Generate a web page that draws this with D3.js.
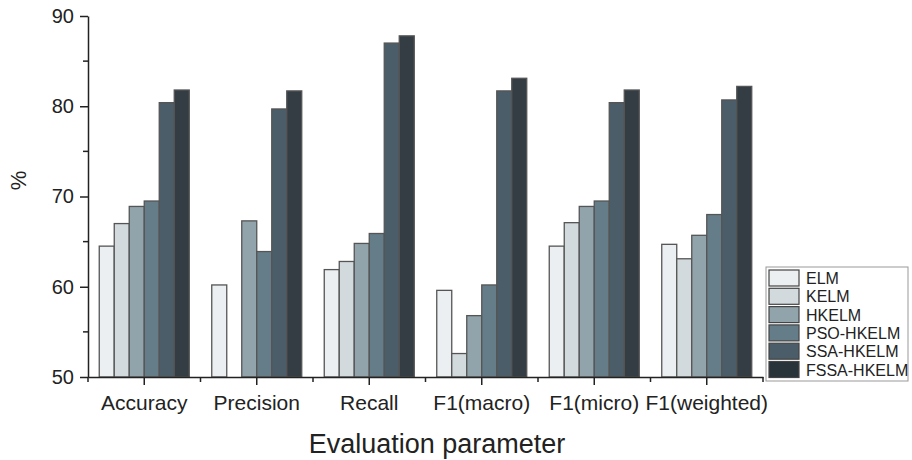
<!DOCTYPE html>
<html>
<head>
<meta charset="utf-8">
<script src="https://cdn.jsdelivr.net/npm/d3@7"></script>
<style>
  body { margin: 0; background: #fff; }
  svg { display: block; font-family: "Liberation Sans", Arial, sans-serif; }
  .axis path, .axis line { stroke: #222; stroke-width: 1.5; }
  .axis text { fill: #222; }
</style>
</head>
<body>
<div id="chart"></div>
<script>
  //-- DATA
  var categories = ['Accuracy', 'Precision', 'Recall', 'F1(macro)', 'F1(micro)', 'F1(weighted)'];
  var models = ['ELM', 'KELM', 'HKELM', 'PSO-HKELM', 'SSA-HKELM', 'FSSA-HKELM'];
  var elm   = [64.5, 60.2, 61.9, 59.6, 64.5, 64.7];
  var kelm  = [67.0, 48.0, 62.8, 52.6, 67.1, 63.1];
  var hkelm = [68.9, 67.3, 64.8, 56.8, 68.9, 65.7];
  var pso   = [69.5, 63.9, 65.9, 60.2, 69.5, 68.0];
  var ssa   = [80.4, 79.7, 87.0, 81.7, 80.4, 80.7];
  var fssa  = [81.8, 81.7, 87.8, 83.1, 81.8, 82.2];
  var yTicks = [50, 60, 70, 80, 90];

  var series = [elm, kelm, hkelm, pso, ssa, fssa];
  var colors = ['#ebeff1', '#d3dadd', '#91a3ab', '#657d89', '#4b5d68', '#343d44'];
  var legendColors = ['#ebeff1', '#d3dadd', '#91a3ab', '#657d89', '#4b5d68', '#29333a'];

  //-- SIZES
  var svgWidth = 912, svgHeight = 460;
  var m = { top: 16, right: 149, bottom: 83, left: 88 };
  var width = svgWidth - m.left - m.right;
  var height = svgHeight - m.top - m.bottom;

  var svg = d3.select('#chart').append('svg')
    .attr('width', svgWidth)
    .attr('height', svgHeight);

  var g = svg.append('g')
    .attr('transform', 'translate(' + m.left + ',' + m.top + ')');

  //-- SCALES
  var x0 = d3.scaleBand()
    .domain(categories)
    .range([0, width])
    .paddingInner(0.2)
    .paddingOuter(0.1);

  var x1 = d3.scaleBand()
    .domain(models)
    .range([0, x0.bandwidth()]);

  var y = d3.scaleLinear()
    .domain([50, 90])
    .range([height, 0]);

  g.append('clipPath').attr('id', 'clip')
    .append('rect').attr('width', width).attr('height', height);

  //-- BARS
  var groups = g.append('g').attr('clip-path', 'url(#clip)')
    .selectAll('g')
    .data(categories)
    .enter().append('g')
    .attr('transform', function(d) { return 'translate(' + x0(d) + ',0)'; });

  groups.selectAll('rect')
    .data(function(d, i) {
      return models.map(function(mdl, j) { return { model: mdl, value: series[j][i], j: j }; });
    })
    .enter().append('rect')
    .attr('x', function(d) { return x1(d.model); })
    .attr('y', function(d) { return y(d.value); })
    .attr('width', x1.bandwidth())
    .attr('height', function(d) { return Math.max(0, height - y(d.value)); })
    .attr('fill', function(d) { return colors[d.j]; })
    .attr('stroke', '#555')
    .attr('stroke-width', 1.3);

  //-- Y AXIS
  var axisY = g.append('g').attr('class', 'axis')
    .call(d3.axisLeft(y).tickValues(yTicks).tickSize(8).tickPadding(6).tickSizeOuter(0));
  axisY.selectAll('text').style('font-size', '20px');
  axisY.append('g')
    .selectAll('line')
    .data([55, 65, 75, 85])
    .enter().append('line')
    .attr('x1', -5).attr('x2', 0)
    .attr('y1', function(d) { return y(d); })
    .attr('y2', function(d) { return y(d); });

  //-- X AXIS
  var axisX = g.append('g').attr('class', 'axis')
    .attr('transform', 'translate(0,' + height + ')')
    .call(d3.axisBottom(x0).tickSize(8).tickPadding(10).tickSizeOuter(0));
  axisX.selectAll('text').style('font-size', '21px');
  var bounds = categories.map(function(c) { return x0(c) - x0.step() * x0.paddingInner() / 2; });
  bounds.push(width);
  axisX.append('g')
    .selectAll('line')
    .data(bounds)
    .enter().append('line')
    .attr('x1', function(d) { return d; }).attr('x2', function(d) { return d; })
    .attr('y1', 0).attr('y2', 5);

  //-- AXIS TITLES
  svg.append('text')
    .attr('x', 437)
    .attr('y', 453)
    .attr('text-anchor', 'middle')
    .style('font-size', '27px')
    .style('fill', '#222')
    .text('Evaluation parameter');

  svg.append('text')
    .attr('transform', 'translate(26,' + y(70) + ') rotate(-90)')
    .attr('text-anchor', 'middle')
    .style('font-size', '22px')
    .style('fill', '#222')
    .text('%');

  //-- LEGEND
  var legend = svg.append('g').attr('transform', 'translate(766,267)');
  legend.append('rect')
    .attr('width', 142).attr('height', 114)
    .attr('fill', '#fff').attr('stroke', '#999').attr('stroke-width', 1);
  var items = legend.selectAll('.item')
    .data(models)
    .enter().append('g')
    .attr('transform', function(d, i) { return 'translate(3,' + (3 + i * 18.3) + ')'; });
  items.append('rect')
    .attr('width', 30).attr('height', 16)
    .attr('fill', function(d, i) { return legendColors[i]; })
    .attr('stroke', '#444').attr('stroke-width', 1.2);
  items.append('text')
    .attr('x', 37).attr('y', 14)
    .style('font-size', '16px')
    .style('fill', '#222')
    .text(function(d) { return d; });
</script>
</body>
</html>
